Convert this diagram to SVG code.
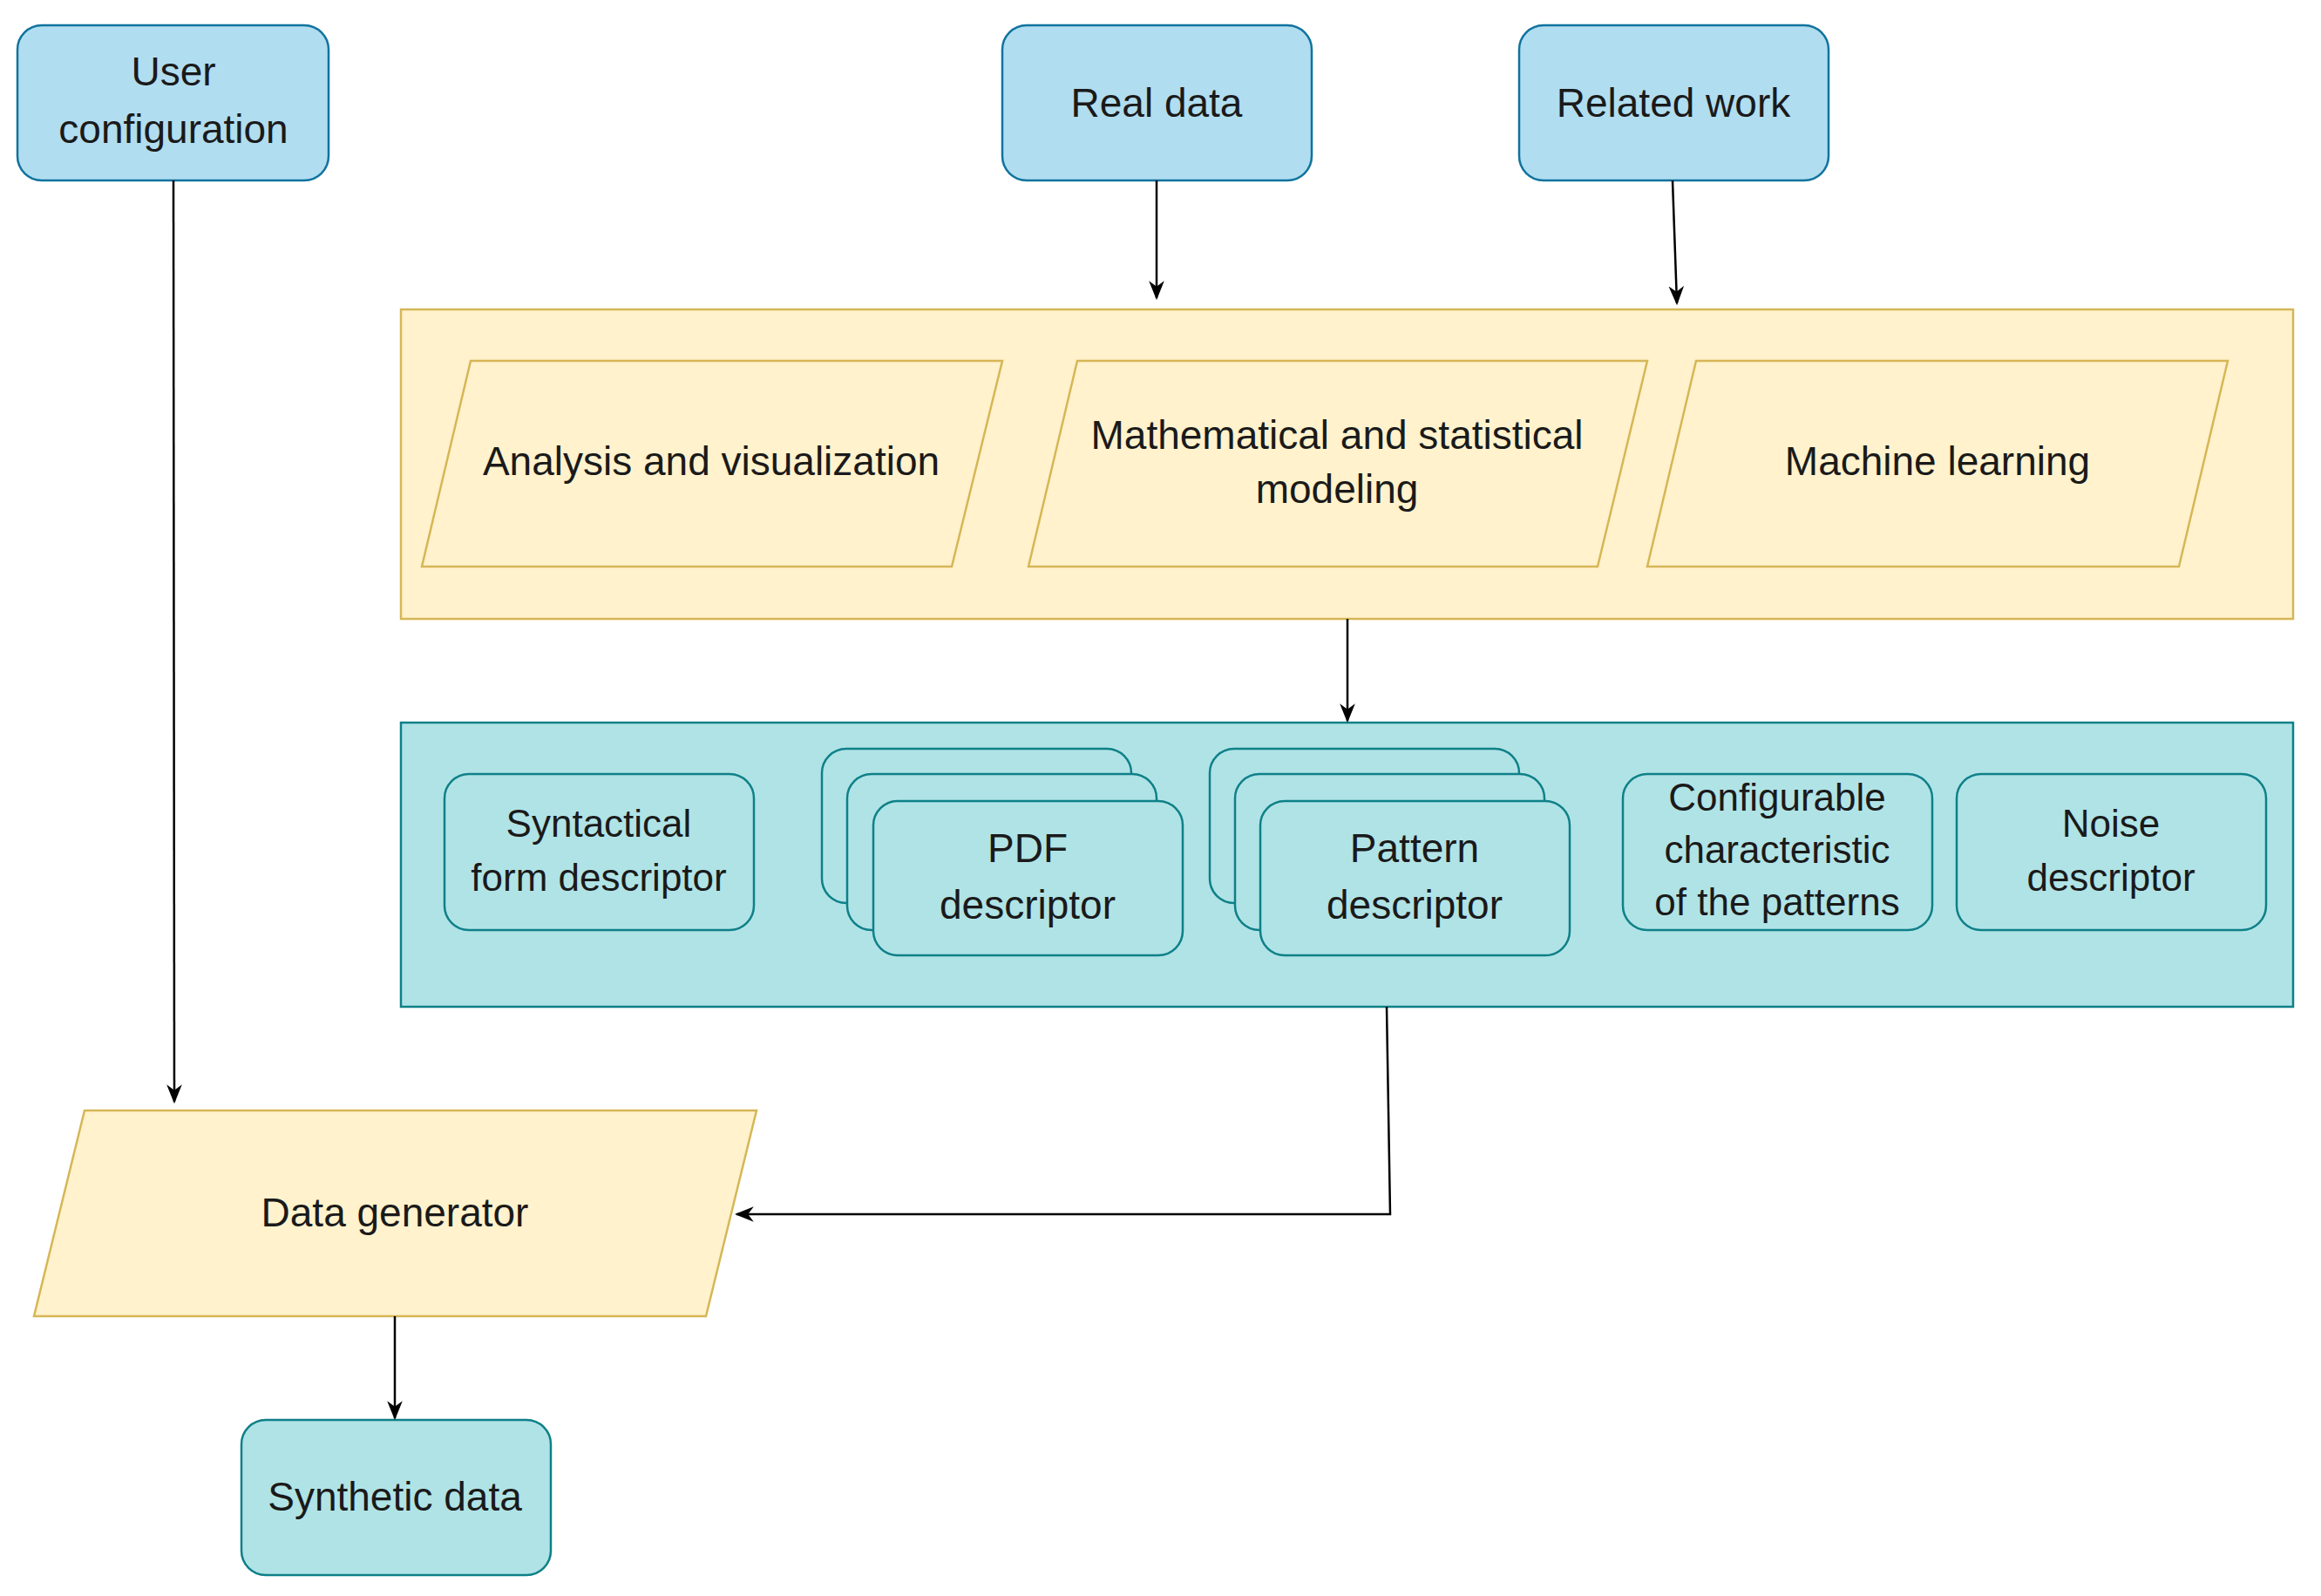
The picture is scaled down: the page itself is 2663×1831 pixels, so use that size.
<svg xmlns="http://www.w3.org/2000/svg" width="2663" height="1831" viewBox="0 0 2663 1831">
<style>
.b{fill:#b1ddf0;stroke:#10739e;stroke-width:2.5}
.y{fill:#fff2cc;stroke:#d6b656;stroke-width:2.5}
.t{fill:#b0e3e6;stroke:#0e8088;stroke-width:2.5}
text{font-family:"Liberation Sans",Arial,sans-serif;font-size:46px;fill:#1a1a1a;text-anchor:middle}
.s{font-size:44px}
.c path{fill:none;stroke:#000;stroke-width:2.5;marker-end:url(#a)}
</style>
<defs><marker id="a" viewBox="0 0 10 10" refX="9" refY="5" markerWidth="9" markerHeight="9" markerUnits="userSpaceOnUse" orient="auto"><path d="M0,0 L10,5 L0,10 L3,5 Z" fill="#000" transform="scale(1)"/></marker>
<marker id="a2" viewBox="0 0 10 10" refX="9" refY="5" markerWidth="22" markerHeight="22" markerUnits="userSpaceOnUse" orient="auto"><path d="M0,1 L10,5 L0,9 L3,5 Z" fill="#000"/></marker></defs>
<style>.c path{marker-end:url(#a2)}</style>
<g id="user"><rect class="b" x="20" y="29" width="357" height="178" rx="28"/><text x="199" y="98">User</text><text x="199" y="164">configuration</text></g>
<g id="real"><rect class="b" x="1150" y="29" width="355" height="178" rx="28"/><text x="1327" y="134">Real data</text></g>
<g id="related"><rect class="b" x="1743" y="29" width="355" height="178" rx="28"/><text x="1920" y="134">Related work</text></g>
<g id="methods"><rect class="y" x="460" y="355" width="2171" height="355"/>
<polygon class="y" points="540,414 1150,414 1092,650 484,650"/><text x="816" y="545">Analysis and visualization</text>
<polygon class="y" points="1236,414 1890,414 1833,650 1180,650"/><text x="1534" y="515">Mathematical and statistical</text><text x="1534" y="577">modeling</text>
<polygon class="y" points="1946,414 2556,414 2500,650 1890,650"/><text x="2223" y="545">Machine learning</text></g>
<g id="descriptors"><rect class="t" x="460" y="829" width="2171" height="326"/>
<rect class="t" x="510" y="888" width="355" height="179" rx="28"/><text class="s" x="687" y="960">Syntactical</text><text class="s" x="687" y="1022">form descriptor</text>
<rect class="t" x="943" y="859" width="355" height="177" rx="28"/><rect class="t" x="972" y="888" width="355" height="179" rx="28"/><rect class="t" x="1002" y="919" width="355" height="177" rx="28"/>
<text x="1179" y="989">PDF</text><text x="1179" y="1054">descriptor</text>
<rect class="t" x="1388" y="859" width="355" height="177" rx="28"/><rect class="t" x="1417" y="888" width="355" height="179" rx="28"/><rect class="t" x="1446" y="919" width="355" height="177" rx="28"/>
<text x="1623" y="989">Pattern</text><text x="1623" y="1054">descriptor</text>
<rect class="t" x="1862" y="888" width="355" height="179" rx="28"/><text class="s" x="2039" y="930">Configurable</text><text class="s" x="2039" y="990">characteristic</text><text class="s" x="2039" y="1050">of the patterns</text>
<rect class="t" x="2245" y="888" width="355" height="179" rx="28"/><text class="s" x="2422" y="960">Noise</text><text class="s" x="2422" y="1022">descriptor</text></g>
<g id="generator"><polygon class="y" points="97,1274 868,1274 810,1510 39,1510"/><text x="453" y="1407">Data generator</text></g>
<g id="synthetic"><rect class="t" x="277" y="1629" width="355" height="178" rx="28"/><text x="453" y="1733">Synthetic data</text></g>
<g class="c">
<path d="M199,207 L200,1264"/>
<path d="M1327,207 L1327,342"/>
<path d="M1919,207 L1924,348"/>
<path d="M1546,710 L1546,827"/>
<path d="M1591,1155 L1595,1393 L845,1393"/>
<path d="M453,1510 L453,1627"/>
</g>
</svg>
